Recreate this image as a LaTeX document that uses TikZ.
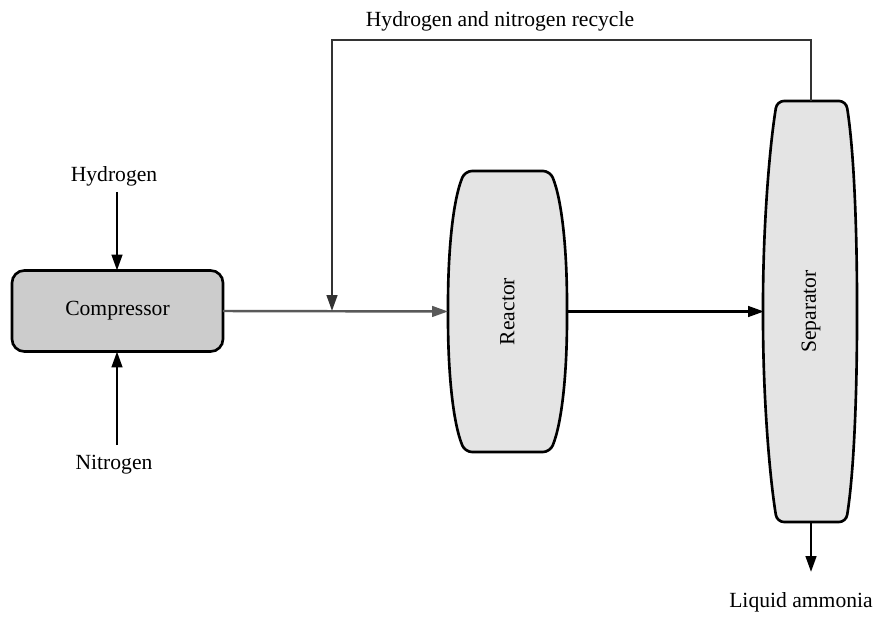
\documentclass[tikz,border=0pt]{standalone}
\usepackage{fontspec}
\setmainfont{Liberation Serif}
\usepackage{graphicx}
\usetikzlibrary{arrows.meta}

\definecolor{compgray}{HTML}{CCCCCC}
\definecolor{vesgray}{HTML}{E4E4E4}

\begin{document}
\begin{tikzpicture}[x=0.02cm, y=-0.02cm,
        font=\fontsize{12.3}{14}\selectfont,
        flow/.style={line width=1.4pt, -{Triangle[length=9pt, width=6pt]}},
        unit/.style={inner sep=0pt, outer sep=0pt},
        vessel/.style={draw, line width=1.5pt, fill=vesgray, rounded corners=4pt}]
        \useasboundingbox (0,0) rectangle (874,617);

        % vessels
        \draw[vessel] (507,171) -- (550,171) .. controls (562,200) and (567,250) .. (567,311.5)
            .. controls (567,373) and (562,423) .. (550,452) -- (465,452)
            .. controls (453,423) and (448,373) .. (448,311.5)
            .. controls (448,250) and (453,200) .. (465,171) -- cycle;
        \draw[vessel] (811,101) -- (846,101) .. controls (854,150) and (857,230) .. (857,311.5)
            .. controls (857,393) and (854,473) .. (846,522) -- (777,522)
            .. controls (769,473) and (763,393) .. (763,311.5)
            .. controls (763,230) and (769,150) .. (777,101) -- cycle;

        \node[unit, draw, line width=1.5pt, fill=compgray, rounded corners=7pt,
            minimum width=4.22cm, minimum height=1.62cm] (comp) at (117.5,311) {Compressor};
        \node[unit, minimum width=2.38cm, minimum height=5.62cm] (reactor) at (507.5,311.5) {\rotatebox{90}{Reactor}};
        \node[unit, minimum width=1.88cm, minimum height=8.42cm] (sep) at (811,311.5) {\rotatebox{90}{Separator}};

        \node (hyd) at (114,176) {Hydrogen};
        \node (nit) at (114,465) {Nitrogen};
        \node (recyc) at (500,21) {Hydrogen and nitrogen recycle};
        \node (nh3) at (801,602) {Liquid ammonia};

        \coordinate (top) at (332,40);
        \coordinate (mix) at (332,311);
        \coordinate (out) at (811,572);

        % streams
        \draw[flow] (117,192) -- (comp.north -| 117,0);
        \draw[flow] (117,445) -- (comp.south -| 117,0);
        \draw[flow, black!65] (comp.east) -- (reactor.west);
        \draw[flow, black!80] (sep.north) |- (top) -- (mix);
        \draw[flow] (reactor.east) -- (sep.west);
        \draw[flow] (sep.south) -- (out);
\end{tikzpicture}
\end{document}
